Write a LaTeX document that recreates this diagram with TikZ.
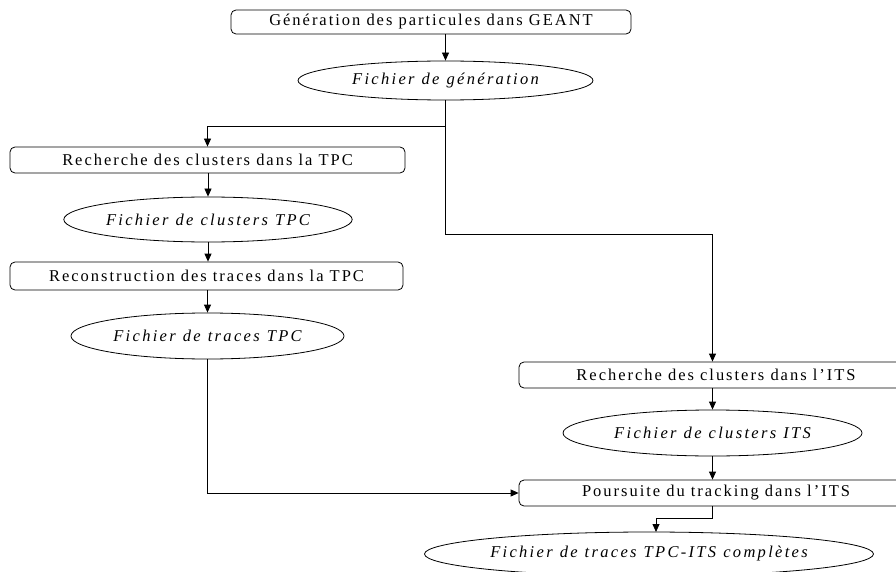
\documentclass[tikz,border=0pt]{standalone}
\usepackage{fontspec}
\setmainfont{Liberation Serif}
\newfontfamily\boxfont{Liberation Serif}[LetterSpace=12]
\newfontfamily\elfont{Liberation Serif}[LetterSpace=14,WordSpace=1.1]
\usetikzlibrary{shapes.geometric,arrows.meta,calc}
\begin{document}
\begin{tikzpicture}[x=1pt,y=-1pt,
  line width=0.8pt,
  procbox/.style={draw, rounded corners=5pt, inner sep=0pt, font=\boxfont\fontsize{16.5}{19}\selectfont},
  filebox/.style={draw, ellipse, inner sep=0pt, font=\elfont\itshape\fontsize{16.5}{19}\selectfont},
  arr/.style={-{Triangle[length=8pt,width=7pt]}}]
\useasboundingbox (0,0) rectangle (896,572);
\node[procbox, minimum width=400pt, minimum height=24pt] (box1) at (431,22) {Génération des particules dans GEANT};
\node[filebox, minimum width=295pt, minimum height=39pt] (E1) at (445.5,80.5) {Fichier de génération};
\node[procbox, minimum width=395pt, minimum height=26pt] (box2) at (207.5,160) {Recherche des clusters dans la TPC};
\node[filebox, minimum width=274pt, minimum height=45pt] (E2) at (208,219.5) {Fichier de clusters TPC};
\node[procbox, minimum width=393pt, minimum height=28pt] (box3) at (206.5,276) {Reconstruction des traces dans la TPC};
\node[filebox, minimum width=273pt, minimum height=46pt] (E3) at (207.5,336) {Fichier de traces TPC};
\node[procbox, minimum width=394pt, minimum height=26pt] (its1) at (716,375) {Recherche des clusters dans l’ITS};
\node[filebox, minimum width=299pt, minimum height=46pt] (E4) at (712.5,433) {Fichier de clusters ITS};
\node[procbox, minimum width=394pt, minimum height=26pt] (its2) at (716,493) {Poursuite du tracking dans l’ITS};
\node[filebox, minimum width=398pt, minimum height=44pt] (E5) at (649,554) {Fichier de traces TPC-ITS complètes};
\coordinate (j1) at (445.5,126);
\coordinate (j2) at (445.5,234);
\coordinate (j3) at (712.5,518);
\coordinate (j4) at (656,532);
\draw[arr] (box1.south -| E1) -- (E1.north);
\draw[arr] (E1.south) -- (j1) -| (box2.north);
\draw[arr] (j1) -- (j2) -| (its1.north -| E4);
\draw[arr] (box2.south -| E2) -- (E2.north);
\draw[arr] (E2.south) -- (E2.south |- box3.north);
\draw[arr] (box3.south -| E3) -- (E3.north);
\draw[arr] (E3.south) |- (its2.west);
\draw[arr] (its1.south -| E4) -- (E4.north);
\draw[arr] (E4.south) -- (E4.south |- its2.north);
\draw[arr] (its2.south -| E4) -- (j3) -| (j4);
\end{tikzpicture}
\end{document}
